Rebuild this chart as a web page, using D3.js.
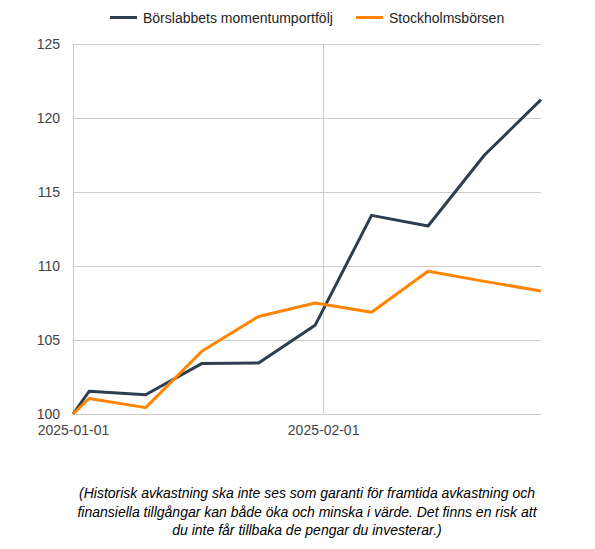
<!DOCTYPE html>
<html>
  <head>
    <meta charset="utf-8">
    <title>Börslabbets momentumportfölj vs Stockholmsbörsen</title>
    <script src="https://d3js.org/d3.v7.min.js"></script>
    <style>
      body { margin: 0; background: #fff; font-family: Arial, "Liberation Sans", sans-serif; }
    </style>
  </head>
  <body>
    <script>
        // data (weekly, Fridays)
        var dates = ["2025-01-01", "2025-01-03", "2025-01-10", "2025-01-17", "2025-01-24",
                     "2025-01-31", "2025-02-07", "2025-02-14", "2025-02-21", "2025-02-28"];
        var momentum = [100, 101.53, 101.30, 103.42, 103.44, 105.99, 113.42, 112.70, 117.50, 121.24];
        var omx = [100, 101.05, 100.43, 104.26, 106.59, 107.50, 106.87, 109.64, 108.96, 108.31];
        var seriesNames = ["Börslabbets momentumportfölj", "Stockholmsbörsen"];
        var seriesColors = ["#2c3e50", "#ff8400"];
        var yTicks = [100, 105, 110, 115, 120, 125];
        var xTicks = ["2025-01-01", "2025-02-01"];
        var footnote = [
          "(Historisk avkastning ska inte ses som garanti för framtida avkastning och",
          "finansiella tillgångar kan både öka och minska i värde. Det finns en risk att",
          "du inte får tillbaka de pengar du investerar.)"
        ];

        var W = 595, H = 549;
        var margin = {top: 44, right: 54, bottom: 135, left: 73};
        var width = W - margin.left - margin.right;
        var height = H - margin.top - margin.bottom;
        var parse = d3.utcParse("%Y-%m-%d");

        var svg = d3.select("body").append("svg")
            .attr("width", W)
            .attr("height", H);

        var g = svg.append("g")
            .attr("transform", "translate(" + margin.left + "," + margin.top + ")");

        var x = d3.scaleUtc()
            .domain([parse(dates[0]), parse(dates[dates.length - 1])])
            .range([0, width]);

        var y = d3.scaleLinear()
            .domain([100, 125])
            .range([height, 0]);

        // horizontal grid
        g.append("g").selectAll("line")
            .data(yTicks)
            .enter().append("line")
            .attr("x1", 0).attr("x2", width)
            .attr("y1", function(d) { return y(d); })
            .attr("y2", function(d) { return y(d); })
            .attr("stroke", "#cccccc")
            .attr("stroke-width", 1)
            .attr("shape-rendering", "crispEdges");

        // vertical grid at the date ticks
        g.append("g").selectAll("line")
            .data(xTicks)
            .enter().append("line")
            .attr("x1", function(d) { return x(parse(d)); })
            .attr("x2", function(d) { return x(parse(d)); })
            .attr("y1", 0).attr("y2", height)
            .attr("stroke", "#cccccc")
            .attr("stroke-width", 1)
            .attr("shape-rendering", "crispEdges");

        // y axis labels
        var yAxis = g.append("g")
            .call(d3.axisLeft(y).tickValues(yTicks).tickSize(0).tickPadding(13));
        yAxis.select(".domain").remove();
        yAxis.selectAll("text")
            .attr("fill", "#444444")
            .style("font-size", "14px")
            .style("font-family", "Arial, 'Liberation Sans', sans-serif");

        // x axis labels
        var xAxis = g.append("g")
            .attr("transform", "translate(0," + height + ")")
            .call(d3.axisBottom(x)
                .tickValues(xTicks.map(parse))
                .tickFormat(d3.utcFormat("%Y-%m-%d"))
                .tickSize(0).tickPadding(11));
        xAxis.select(".domain").remove();
        xAxis.selectAll("text")
            .attr("fill", "#444444")
            .style("font-size", "14px")
            .style("font-family", "Arial, 'Liberation Sans', sans-serif");

        // lines
        var series = [momentum, omx];
        var line = d3.line()
            .x(function(d, i) { return x(parse(dates[i])); })
            .y(function(d) { return y(d); });

        series.forEach(function(s, k) {
          g.append("path")
            .datum(s)
            .attr("fill", "none")
            .attr("stroke", seriesColors[k])
            .attr("stroke-width", 3)
            .attr("stroke-linejoin", "round")
            .attr("d", line);
        });

        // legend
        var legendX = [110, 356];
        var legend = svg.append("g");
        seriesNames.forEach(function(name, k) {
          legend.append("line")
            .attr("x1", legendX[k]).attr("x2", legendX[k] + 27)
            .attr("y1", 17.5).attr("y2", 17.5)
            .attr("stroke", seriesColors[k])
            .attr("stroke-width", 3);
          legend.append("text")
            .attr("x", legendX[k] + 33)
            .attr("y", 22.5)
            .attr("fill", "#222222")
            .style("font-size", "14px")
            .text(name);
        });

        // footnote
        svg.append("g").selectAll("text")
            .data(footnote)
            .enter().append("text")
            .attr("x", 307)
            .attr("y", function(d, i) { return 498 + i * 18.5; })
            .attr("text-anchor", "middle")
            .attr("fill", "#000000")
            .style("font-size", "14px")
            .style("font-style", "italic")
            .text(function(d) { return d; });
    </script>
  </body>
</html>
